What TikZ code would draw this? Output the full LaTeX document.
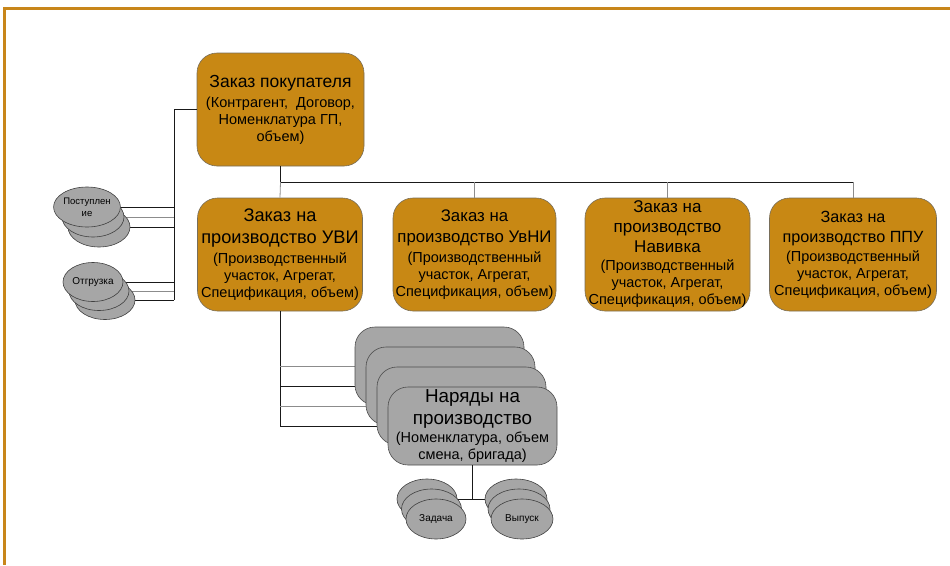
\documentclass[tikz,border=0pt]{standalone}
\usepackage{fontspec}
\setmainfont{Liberation Sans}
\usetikzlibrary{shapes.geometric}
\definecolor{gold}{RGB}{200,136,20}
\definecolor{goldline}{RGB}{200,134,26}
\definecolor{boxgray}{RGB}{166,166,166}
\definecolor{edgegray}{RGB}{120,110,90}
\newcommand\fs[1]{\fontsize{#1}{17}\selectfont}
\newcommand\tsub{\fontsize{14.5}{17}\selectfont}
\newcommand\tsml{\fontsize{10}{12}\selectfont}
\tikzset{
  orderbox/.style={draw=edgegray, fill=gold, rounded corners=20pt, inner sep=0pt,
    align=center, line width=0.6pt, minimum height=113pt, font=\tsub},
  grbox/.style={draw=black!70, fill=boxgray, rounded corners=20pt, minimum width=169pt,
    minimum height=78pt, inner sep=0pt, align=center, line width=0.6pt, font=\tsub},
  ell/.style={ellipse, draw=black!75, fill=boxgray, inner sep=0pt, line width=0.6pt,
    align=center, font=\tsml},
  conn/.style={line width=0.8pt, black!90},
  lconn/.style={line width=0.8pt, black!45},
}
\begin{document}
\begin{tikzpicture}[x=1pt,y=-1pt]
\useasboundingbox (0,0) rectangle (950,565);
\draw[goldline, line width=2.2pt] (950,8.5) -- (4.5,8.5) -- (4.5,565);

% order boxes
\node[orderbox, minimum width=167pt] (top) at (280.5,109.5)
  {{\fs{17.5}Заказ покупателя}\\[3pt](Контрагент,\ \ Договор,\\Номенклатура ГП,\\объем)};
\node[orderbox, minimum width=165pt] (uvi) at (280,254.5)
  {{\fs{18.2}Заказ на}\\[5pt]{\fs{18.2}производство УВИ}\\[3pt](Производственный\\участок, Агрегат,\\Спецификация, объем)};
\node[orderbox, minimum width=163pt] (uvni) at (474.5,254.5)
  {{\fs{16.8}Заказ на}\\[4pt]{\fs{16.8}производство УвНИ}\\[3pt](Производственный\\участок, Агрегат,\\Спецификация, объем)};
\node[orderbox, minimum width=165pt] (nav) at (667.5,254.5)
  {{\fs{17}Заказ на}\\[3pt]{\fs{17}производство}\\[3pt]{\fs{17}Навивка}\\[1pt](Производственный\\участок, Агрегат,\\Спецификация, объем)};
\node[orderbox, minimum width=167pt] (ppu) at (853,254.5)
  {{\fs{16.2}Заказ на}\\[3pt]{\fs{16.2}производство ППУ}\\[2pt](Производственный\\участок, Агрегат,\\Спецификация, объем)};

% helper coordinates
\coordinate (lv) at (174,0);
\coordinate (hb) at (0,182);
\coordinate (hz) at (0,499);

% connectors top -> children
\draw[conn] (top.south) -- (top.south |- hb) -- (ppu.north |- hb);
\draw[lconn] (top.south |- hb) -- (uvi.north);
\draw[lconn] (uvni.north |- hb) -- (uvni.north);
\draw[lconn] (nav.north |- hb) -- (nav.north);
\draw[lconn] (ppu.north |- hb) -- (ppu.north);

% left ellipse coordinates (shapes drawn later)
\path (87,207) coordinate (p1c) (93,217) coordinate (p2c) (99,227) coordinate (p3c);
\path (93,282) coordinate (o1c) (99,291) coordinate (o2c) (105,300) coordinate (o3c);

% gray order stack
\path (439.5,366) coordinate (n1c) (450.5,386) coordinate (n2c) (461.5,406) coordinate (n3c) (472.5,426) coordinate (n4c);

\draw[conn] (top.west) -| (lv |- o3c);
\foreach \c/\s in {p1c/conn,p2c/lconn,p3c/conn,o1c/conn,o2c/lconn,o3c/conn}
  \draw[\s] (\c) -- (lv |- \c);

\draw[conn] (uvi.south) -- (uvi.south |- n4c);
\foreach \c/\s in {n1c/lconn,n2c/conn,n3c/lconn,n4c/conn}
  \draw[\s] (uvi.south |- \c) -- (\c);

% left ellipses
\node[ell, minimum width=62pt, minimum height=40pt] (p3) at (p3c) {};
\node[ell, minimum width=62pt, minimum height=40pt] (p2) at (p2c) {};
\node[ell, minimum width=62pt, minimum height=40pt, font=\fontsize{9.5}{12}\selectfont] (p1) at (p1c) {Поступлен\\ие};
\node[ell, minimum width=60pt, minimum height=39pt] (o3) at (o3c) {};
\node[ell, minimum width=60pt, minimum height=39pt] (o2) at (o2c) {};
\node[ell, minimum width=60pt, minimum height=39pt] (o1) at (o1c) {Отгрузка};

% gray boxes
\node[grbox] (n1) at (n1c) {};
\node[grbox] (n2) at (n2c) {};
\node[grbox] (n3) at (n3c) {};
\node[grbox] (n4) at (n4c)
  {{\fs{18.8}Наряды на}\\[5pt]{\fs{18.8}производство}\\[1pt](Номенклатура, объем\\смена, бригада)};

% bottom ellipses
\path (427,499) coordinate (z1c) (431.5,509) coordinate (z2c) (436,519) coordinate (z3c);
\path (516,499) coordinate (v1c) (519,509) coordinate (v2c) (522,519) coordinate (v3c);
\draw[conn] (n4.south) -- (n4.south |- hz);
\draw[conn] (z1c) -- (v1c);
\node[ell, minimum width=60pt, minimum height=40pt] (z1) at (z1c) {};
\node[ell, minimum width=60pt, minimum height=40pt] (z2) at (z2c) {};
\node[ell, minimum width=60pt, minimum height=40pt] (z3) at (z3c) {Задача};
\node[ell, minimum width=62pt, minimum height=40pt] (v1) at (v1c) {};
\node[ell, minimum width=62pt, minimum height=40pt] (v2) at (v2c) {};
\node[ell, minimum width=62pt, minimum height=40pt] (v3) at (v3c) {Выпуск};
\end{tikzpicture}
\end{document}
